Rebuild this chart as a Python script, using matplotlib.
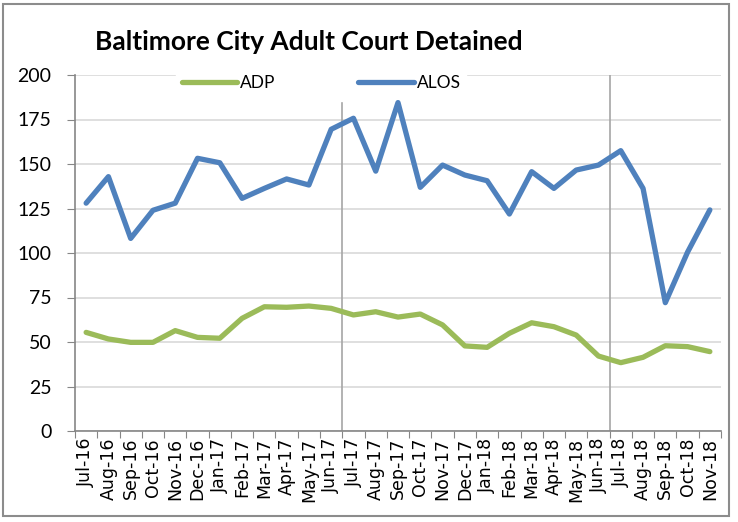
import matplotlib.pyplot as plt
from matplotlib.patches import Rectangle

# Monthly data, Jul-16 .. Nov-18
months = ['Jul-16', 'Aug-16', 'Sep-16', 'Oct-16', 'Nov-16', 'Dec-16',
          'Jan-17', 'Feb-17', 'Mar-17', 'Apr-17', 'May-17', 'Jun-17',
          'Jul-17', 'Aug-17', 'Sep-17', 'Oct-17', 'Nov-17', 'Dec-17',
          'Jan-18', 'Feb-18', 'Mar-18', 'Apr-18', 'May-18', 'Jun-18',
          'Jul-18', 'Aug-18', 'Sep-18', 'Oct-18', 'Nov-18']
adp = [55.4, 51.7, 49.8, 49.8, 56.4, 52.6, 52.1, 63.3, 69.8, 69.5, 70.2, 68.9,
       65.2, 67.0, 64.0, 65.7, 59.6, 47.8, 47.0, 54.9, 60.8, 58.6, 53.9, 42.1,
       38.4, 41.4, 47.9, 47.4, 44.6]
alos = [128, 142.9, 108.2, 124, 128, 153.2, 150.7, 130.7, 136.3, 141.6, 138.2, 169.5,
        175.7, 146, 184.5, 136.9, 149.4, 143.8, 140.6, 121.9, 145.7, 136.3, 146.6, 149.4,
        157.5, 136.3, 72.1, 100.5, 124.2]
yticks = [0, 25, 50, 75, 100, 125, 150, 175, 200]

plt.rcParams['font.family'] = ['Lato', 'DejaVu Sans']

fig = plt.figure(figsize=(7.38, 5.22), dpi=100)
ax = fig.add_axes([75 / 738, 1 - 431 / 522, 646 / 738, 356 / 522])

# outer chart border
fig.patches.append(Rectangle((3 / 738, 6 / 522), 726 / 738, 512 / 522,
                             transform=fig.transFigure, fill=False,
                             edgecolor='#8c8c8c', linewidth=1.5))

x = list(range(len(months)))
ax.plot(x, adp, color='#9bbb59', linewidth=3.8, label='ADP', solid_capstyle='round')
ax.plot(x, alos, color='#4f81bd', linewidth=3.8, label='ALOS', solid_capstyle='round')

# year-break markers
ax.plot([11.5, 11.5], [0, 184], color='#a6a6a6', linewidth=1.2, zorder=1)
ax.plot([23.5, 23.5], [0, 200], color='#a6a6a6', linewidth=1.2, zorder=1)

ax.set_xlim(-0.5, len(months) - 0.5)
ax.set_ylim(0, 200)
ax.set_yticks(yticks)
ax.set_xticks([i - 0.5 for i in range(len(months) + 1)], minor=False)
ax.set_xticklabels([])
ax.set_xticks(x, minor=True)
ax.set_xticklabels(months, minor=True, rotation=90, fontsize=12.5,
                   family='DejaVu Sans')
ax.tick_params(axis='x', which='minor', length=0, pad=5)
ax.tick_params(axis='x', which='major', length=5, color='#868686')
ax.tick_params(axis='y', length=6, color='#868686', labelsize=14, pad=11)

ax.grid(axis='y', color='#d9d9d9', linewidth=1.2)
ax.set_axisbelow(True)
for s in ['top', 'right']:
    ax.spines[s].set_visible(False)
for s in ['left', 'bottom']:
    ax.spines[s].set_color('#868686')
    ax.spines[s].set_linewidth(1.2)

leg = ax.legend(loc='center', bbox_to_anchor=(0.381, 0.977), ncol=2, frameon=True,
                fontsize=12.5, handlelength=3.2, columnspacing=4.8, handletextpad=0.15,
                borderpad=0.3, fancybox=False)
leg.get_frame().set_facecolor('white')
leg.get_frame().set_edgecolor('white')
leg.get_frame().set_alpha(1)
leg.set_zorder(5)

fig.text(95 / 738, 1 - 42 / 522, 'Baltimore City Adult Court Detained',
         fontsize=19, fontweight='bold', va='center', ha='left')

fig.savefig('out.png', dpi=100)
